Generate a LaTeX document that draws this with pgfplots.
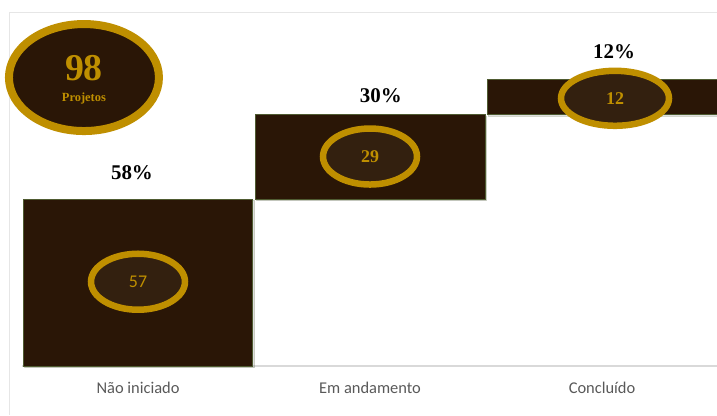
\documentclass[border=0pt]{standalone}
\usepackage{pgfplots}
\pgfplotsset{compat=1.18}
\usepackage{fontspec}
\setmainfont{Liberation Serif}
\newfontfamily\carlito{Carlito}
\usetikzlibrary{shapes.geometric,shadows}
\definecolor{barbrown}{HTML}{2A1606}
\definecolor{innerbrown}{HTML}{33200F}
\definecolor{gold}{HTML}{BF8F00}
\definecolor{edge}{HTML}{4F5B31}
\definecolor{labelgray}{HTML}{595959}
\definecolor{framegray}{HTML}{E6E6E6}
\begin{document}
\begin{tikzpicture}[x=1bp,y=1bp]
\useasboundingbox (0,0) rectangle (717,415);
\draw[framegray, line width=0.8bp] (9,0) -- (9,403) -- (717,403);
\begin{axis}[
  at={(22bp,49bp)}, anchor=south west,
  width=696bp, height=354bp, scale only axis,
  xmin=-0.5, xmax=2.5, ymin=0, ymax=121,
  ybar stacked, bar width=0.99,
  axis y line=none, axis x line=bottom,
  x axis line style={draw=black!15, line width=1.2bp, -},
  xtick={0,1,2}, xticklabels={Não iniciado, Em andamento, Concluído},
  major tick length=0pt,
  xticklabel style={font=\carlito\fontsize{16.5}{16.5}\selectfont, text=labelgray, yshift=-13bp},
  clip=false,
]
\addplot[draw=none, fill=none] coordinates {(0,0) (1,57) (2,86)};
\addplot[fill=barbrown, draw=edge, line width=0.7bp,
  drop shadow={shadow xshift=1.5bp, shadow yshift=-1.5bp, opacity=0.25}]
  coordinates {(0,57) (1,29) (2,12)};
\end{axis}
\begin{axis}[
  at={(22bp,49bp)}, anchor=south west,
  width=696bp, height=354bp, scale only axis,
  xmin=-0.5, xmax=2.5, ymin=0, ymax=121,
  hide axis, clip=false,
]
% value ellipses
\addplot[draw=none, mark=none, nodes near coords, point meta=explicit symbolic,
  nodes near coords style={ellipse, draw=gold, line width=6.5bp, fill=innerbrown,
    text=gold, minimum width=94bp, minimum height=56bp, inner sep=0pt,
    anchor=center, font=\fontsize{18}{18}\selectfont}]
  coordinates {(0,28.8)[\carlito 57] (1,71.6)[\bfseries 29]};
\addplot[draw=none, mark=none, nodes near coords, point meta=explicit symbolic,
  nodes near coords style={ellipse, draw=gold, line width=6.5bp, fill=innerbrown,
    text=gold, minimum width=108bp, minimum height=55bp, inner sep=0pt,
    anchor=center, font=\fontsize{18}{18}\selectfont}]
  coordinates {(2.056,91.5)[\bfseries 12]};
% percentages
\addplot[draw=none, mark=none, nodes near coords, point meta=explicit symbolic,
  nodes near coords style={anchor=center, text=black,
    font=\bfseries\fontsize{21}{21}\selectfont}]
  coordinates {(-0.026,66)[58\%] (1.047,92.5)[30\%] (2.052,107.5)[12\%]};
% total ellipse
\addplot[draw=none, mark=none, nodes near coords, point meta=explicit symbolic,
  nodes near coords style={ellipse, draw=gold, line width=8bp, fill=barbrown,
    minimum width=150bp, minimum height=107bp, inner sep=0pt, anchor=center}]
  coordinates {(-0.233,98.6)[{}]};
\addplot[draw=none, mark=none, nodes near coords, point meta=explicit symbolic,
  nodes near coords style={anchor=center, text=gold, inner sep=0pt}]
  coordinates {(-0.233,101.8)[{\bfseries\fontsize{38}{38}\selectfont 98}]
               (-0.233,91.6)[{\bfseries\fontsize{12.5}{12.5}\selectfont Projetos}]};
\end{axis}
\end{tikzpicture}
\end{document}
